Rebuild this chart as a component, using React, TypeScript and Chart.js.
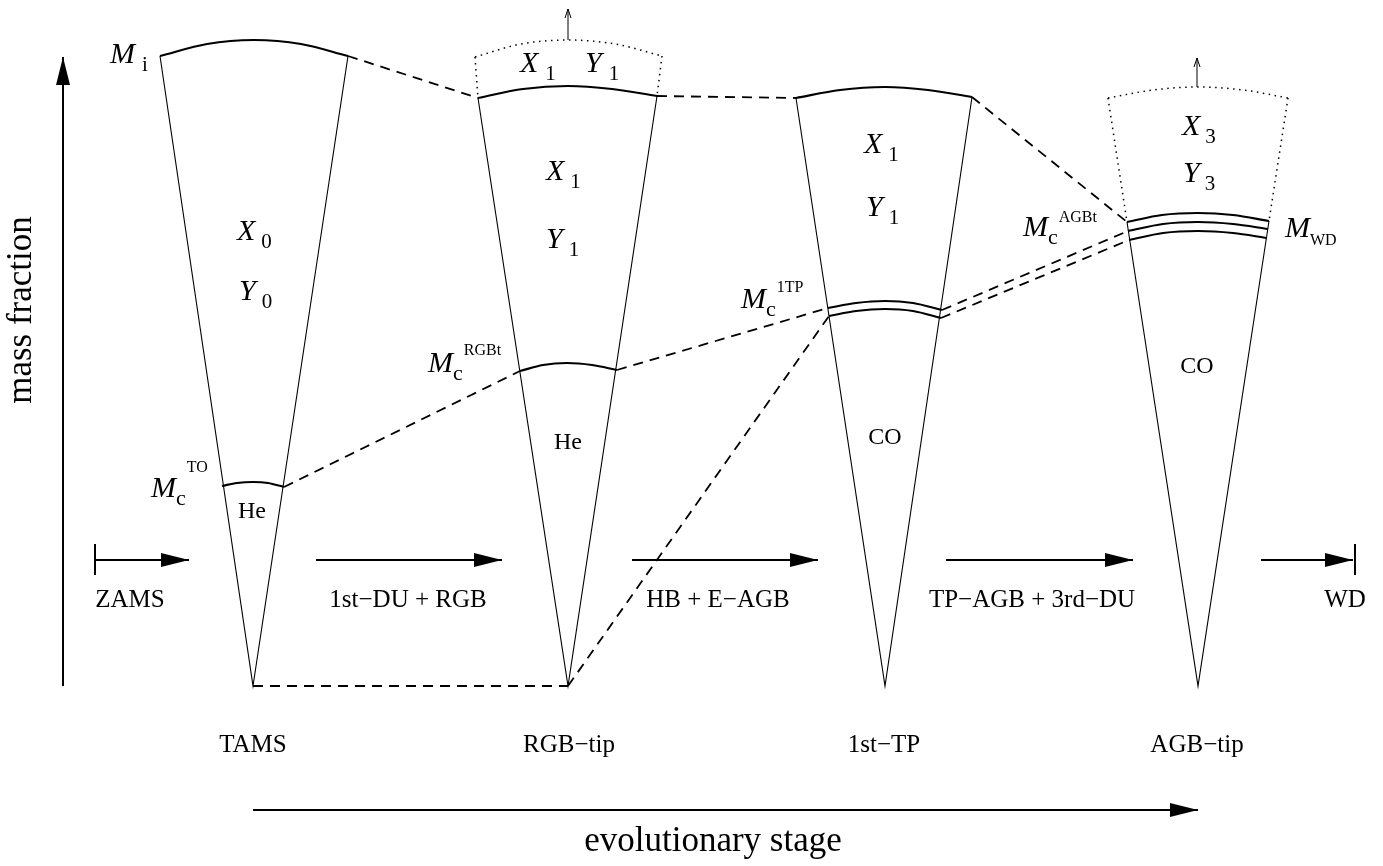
import React, { useEffect, useRef } from 'react';
import { Chart, registerables } from 'chart.js';

Chart.register(...registerables);

const W = 1383;
const H = 866;
const SERIF = '"Liberation Serif", "Times New Roman", serif';

type P = [number, number];

// Diagram space: x runs along the evolution, y is height on the page (downward).
// Each cone is a star at one stage: apex = centre, rim = surface.
const coneApex: P[] = [[253, 686], [568, 686], [885, 686], [1198, 686]];
const coneRimLeft: P[] = [[160, 56], [478, 98], [796, 98], [1127, 222]];
const coneRimRight: P[] = [[348, 56], [657, 96], [972, 97], [1269, 221]];

// stellar surface (solid shells)
const surfaceArcs: P[][] = [
  [[160, 56], [207, 44], [254, 40], [301, 44], [348, 56]],
  [[478, 98], [523, 89], [568, 86], [612, 89], [657, 96]],
  [[796, 98], [840, 90], [885, 87], [928, 90], [972, 97]],
];

// envelope that is lost (dotted shells)
const lostEnvelopeArcs: P[][] = [
  [[475, 57], [521, 44], [568, 40], [615, 44], [662, 56]],
  [[1108, 98], [1153, 90], [1198, 87], [1243, 90], [1288, 98]],
];
const lostEnvelopeSides: P[][] = [
  [[475, 57], [478, 98]],
  [[662, 56], [657, 96]],
  [[1108, 98], [1127, 222]],
  [[1288, 98], [1269, 221]],
];

// core boundaries
const coreArcs: P[][] = [
  [[222, 486], [237, 483], [253, 482], [268, 483], [284, 487]],
  [[520, 371], [543, 365], [567, 363], [592, 365], [617, 370]],
  [[828, 308], [856, 303], [885, 301], [913, 303], [942, 310]],
  [[829, 316], [856, 311], [885, 309], [913, 311], [941, 318]],
  [[1127, 222], [1162, 215], [1198, 213], [1233, 215], [1269, 221]],
  [[1128, 231], [1163, 224], [1198, 222], [1233, 224], [1268, 229]],
  [[1129, 240], [1163, 233], [1198, 231], [1233, 233], [1267, 238]],
];

// links between the same mass coordinate at successive stages
const dashedLinks: P[][] = [
  [[348, 56], [478, 98]],
  [[657, 96], [796, 98]],
  [[972, 97], [1127, 222]],
  [[284, 487], [520, 371]],
  [[617, 370], [828, 308]],
  [[568, 686], [829, 316]],
  [[942, 310], [1128, 231]],
  [[941, 318], [1129, 240]],
  [[253, 686], [568, 686]],
];

// arrows: filled heads for axes / phases, open heads for mass loss
const filledArrows: P[][] = [
  [[63, 686], [63, 57]],
  [[253, 810], [1198, 810]],
  [[95, 560], [189, 560]],
  [[316, 560], [502, 560]],
  [[632, 560], [818, 560]],
  [[946, 560], [1133, 560]],
  [[1261, 560], [1353, 560]],
];
const openArrows: P[][] = [
  [[568, 40], [568, 9]],
  [[1197, 87], [1197, 58]],
];
const stopBars: P[][] = [
  [[95, 544], [95, 575]],
  [[1355, 544], [1355, 575]],
];

// stage names under the cones
const stageNames = ['TAMS', 'RGB−tip', '1st−TP', 'AGB−tip'];
const stageNameX = [253, 569, 884, 1197];
const stageNameY = 745;

// phase names under the phase arrows
const phaseNames = ['ZAMS', '1st−DU + RGB', 'HB + E−AGB', 'TP−AGB + 3rd−DU', 'WD'];
const phaseNameX = [130, 408, 718, 1032, 1345];
const phaseNameY = 600;

// core composition
const coreNames = ['He', 'He', 'CO', 'CO'];
const coreNameX = [252, 568, 885, 1197];
const coreNameY = [512, 443, 438, 367];

type MathLabel = { base: string; sub?: string; sup?: string; x: number; y: number; gap: number; subSize: number; supDy?: number };

const mathLabels: MathLabel[] = [
  { base: 'M', sub: 'i', x: 110, y: 63, gap: 7, subSize: 21 },
  { base: 'X', sub: '0', x: 237, y: 240, gap: 6, subSize: 21 },
  { base: 'Y', sub: '0', x: 239, y: 300, gap: 6, subSize: 21 },
  { base: 'X', sub: '1', x: 520, y: 72, gap: 7, subSize: 21 },
  { base: 'Y', sub: '1', x: 585, y: 72, gap: 7, subSize: 21 },
  { base: 'X', sub: '1', x: 546, y: 180, gap: 6, subSize: 21 },
  { base: 'Y', sub: '1', x: 546, y: 248, gap: 6, subSize: 21 },
  { base: 'X', sub: '1', x: 864, y: 153, gap: 6, subSize: 21 },
  { base: 'Y', sub: '1', x: 866, y: 216, gap: 6, subSize: 21 },
  { base: 'X', sub: '3', x: 1182, y: 135, gap: 5, subSize: 21 },
  { base: 'Y', sub: '3', x: 1183, y: 182, gap: 5, subSize: 21 },
  { base: 'M', sub: 'c', sup: 'TO', x: 151, y: 497, gap: 0, subSize: 22, supDy: -25 },
  { base: 'M', sub: 'c', sup: 'RGBt', x: 428, y: 372, gap: 0, subSize: 22, supDy: -17 },
  { base: 'M', sub: 'c', sup: '1TP', x: 741, y: 308, gap: 0, subSize: 22, supDy: -16 },
  { base: 'M', sub: 'c', sup: 'AGBt', x: 1023, y: 236, gap: 0, subSize: 22, supDy: -14 },
  { base: 'M', sub: 'WD', x: 1285, y: 237, gap: 0, subSize: 16 },
];

const xAxisTitle = 'evolutionary stage';
const yAxisTitle = 'mass fraction';

const pts = (p: P[]) => p.map(([x, y]) => ({ x, y }));

const lineSet = (p: P[], width: number, dash: number[] = [], smooth = false) => ({
  data: pts(p),
  showLine: true,
  pointRadius: 0,
  borderColor: '#000',
  backgroundColor: '#000',
  borderWidth: width,
  borderDash: dash,
  borderCapStyle: 'butt' as const,
  cubicInterpolationMode: smooth ? ('monotone' as const) : ('default' as const),
  tension: 0,
  fill: false,
});

const annotations = {
  id: 'diagramAnnotations',
  afterDatasetsDraw(chart: any) {
    const { ctx } = chart;
    const xs = chart.scales.x;
    const ys = chart.scales.y;
    const px = (v: number) => xs.getPixelForValue(v);
    const py = (v: number) => ys.getPixelForValue(v);
    ctx.save();
    ctx.fillStyle = '#000';
    ctx.strokeStyle = '#000';

    // filled arrow heads
    filledArrows.forEach(([a, b]) => {
      const x1 = px(a[0]), y1 = py(a[1]), x2 = px(b[0]), y2 = py(b[1]);
      const ang = Math.atan2(y2 - y1, x2 - x1);
      const len = 28, half = 7;
      ctx.beginPath();
      ctx.moveTo(x2, y2);
      ctx.lineTo(x2 - len * Math.cos(ang) - half * Math.sin(ang), y2 - len * Math.sin(ang) + half * Math.cos(ang));
      ctx.lineTo(x2 - len * Math.cos(ang) + half * Math.sin(ang), y2 - len * Math.sin(ang) - half * Math.cos(ang));
      ctx.closePath();
      ctx.fill();
    });

    // open arrow heads
    ctx.lineWidth = 1;
    openArrows.forEach(([a, b]) => {
      const x1 = px(a[0]), y1 = py(a[1]), x2 = px(b[0]), y2 = py(b[1]);
      const ang = Math.atan2(y2 - y1, x2 - x1);
      const len = 9, half = 3;
      ctx.beginPath();
      ctx.moveTo(x2 - len * Math.cos(ang) - half * Math.sin(ang), y2 - len * Math.sin(ang) + half * Math.cos(ang));
      ctx.lineTo(x2, y2);
      ctx.lineTo(x2 - len * Math.cos(ang) + half * Math.sin(ang), y2 - len * Math.sin(ang) - half * Math.cos(ang));
      ctx.stroke();
    });

    // plain text
    ctx.textAlign = 'center';
    ctx.textBaseline = 'middle';
    ctx.font = `25px ${SERIF}`;
    stageNames.forEach((s, i) => ctx.fillText(s, px(stageNameX[i]), py(stageNameY)));
    phaseNames.forEach((s, i) => ctx.fillText(s, px(phaseNameX[i]), py(phaseNameY)));
    ctx.font = `24px ${SERIF}`;
    coreNames.forEach((s, i) => ctx.fillText(s, px(coreNameX[i]), py(coreNameY[i])));

    ctx.font = `35px ${SERIF}`;
    ctx.fillText(xAxisTitle, px(713), py(842));
    ctx.save();
    ctx.translate(px(22), py(310));
    ctx.rotate(-Math.PI / 2);
    ctx.fillText(yAxisTitle, 0, 0);
    ctx.restore();

    // symbols with sub/superscripts
    ctx.textAlign = 'left';
    ctx.textBaseline = 'alphabetic';
    mathLabels.forEach((m) => {
      const x = px(m.x), y = py(m.y);
      ctx.font = `italic 30px ${SERIF}`;
      ctx.fillText(m.base, x, y);
      let cx = x + ctx.measureText(m.base).width + m.gap;
      if (m.sub) {
        ctx.font = `${m.subSize}px ${SERIF}`;
        ctx.fillText(m.sub, cx, y + 8);
        cx += ctx.measureText(m.sub).width + 1;
      }
      if (m.sup) {
        ctx.font = `16px ${SERIF}`;
        ctx.fillText(m.sup, cx, y + (m.supDy ?? -20));
      }
    });
    ctx.restore();
  },
};

export default function App() {
  const ref = useRef<HTMLCanvasElement>(null);

  useEffect(() => {
    document.body.style.margin = '0';
    const datasets: any[] = [];
    coneApex.forEach((apex, i) => datasets.push(lineSet([coneRimLeft[i], apex, coneRimRight[i]], 1.1)));
    surfaceArcs.forEach((a) => datasets.push(lineSet(a, 2.2, [], true)));
    coreArcs.forEach((a) => datasets.push(lineSet(a, 2.2, [], true)));
    lostEnvelopeArcs.forEach((a) => datasets.push(lineSet(a, 1.5, [1.5, 4.5], true)));
    lostEnvelopeSides.forEach((a) => datasets.push(lineSet(a, 1.5, [1.5, 4.5])));
    dashedLinks.forEach((a) => datasets.push(lineSet(a, 1.8, [10, 7])));
    filledArrows.forEach((a) => datasets.push(lineSet(a, 2)));
    openArrows.forEach((a) => datasets.push(lineSet(a, 1)));
    stopBars.forEach((a) => datasets.push(lineSet(a, 2)));

    const chart = new Chart(ref.current as HTMLCanvasElement, {
      type: 'scatter',
      data: { datasets },
      options: {
        animation: false,
        responsive: false,
        events: [],
        layout: { padding: 0 },
        plugins: { legend: { display: false }, tooltip: { enabled: false } },
        scales: {
          x: { type: 'linear', min: 0, max: W, display: false },
          y: { type: 'linear', min: 0, max: H, reverse: true, display: false },
        },
      },
      plugins: [annotations],
    });
    return () => chart.destroy();
  }, []);

  return (
    <div style={{ width: W, height: H, background: '#fff' }}>
      <canvas ref={ref} width={W} height={H} style={{ display: 'block' }} />
    </div>
  );
}
